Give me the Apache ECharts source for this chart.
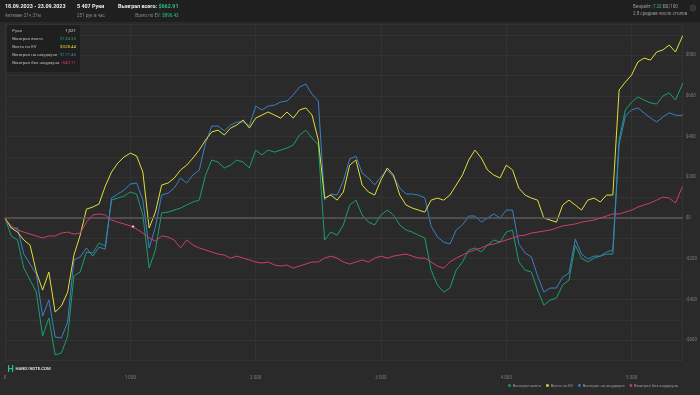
<!DOCTYPE html>
<html><head><meta charset="utf-8">
<script src="https://cdn.jsdelivr.net/npm/echarts@6/dist/echarts.min.js"></script>
<style>html,body{margin:0;padding:0;background:#2a2a2a}#c{width:700px;height:395px}</style>
</head><body><div id="c"></div><script>
const hands = [0,50,100,150,200,250,300,350,400,450,500,550,600,650,700,750,800,850,900,950,1000,1050,1100,1150,1200,1250,1300,1350,1400,1450,1500,1550,1600,1650,1700,1750,1800,1850,1900,1950,2000,2050,2100,2150,2200,2250,2300,2350,2400,2450,2500,2550,2600,2650,2700,2750,2800,2850,2900,2950,3000,3050,3100,3150,3200,3250,3300,3350,3400,3450,3500,3550,3600,3650,3700,3750,3800,3850,3900,3950,4000,4050,4100,4150,4200,4250,4300,4350,4400,4450,4500,4550,4600,4650,4700,4750,4800,4850,4900,4950,5000,5050,5100,5150,5200,5250,5300,5350,5400,5407];
const wonTotal = [0,-88,-108,-246,-305,-364,-580,-491,-673,-663,-580,-285,-265,-167,-172,-123,-138,88,98,108,128,118,15,-246,-157,25,29,39,49,64,79,88,211,285,275,246,260,285,275,246,334,310,334,324,334,344,359,408,432,393,359,-108,-69,-84,-34,64,88,15,-20,-34,15,39,15,-34,-59,-69,-84,-98,-256,-329,-364,-344,-256,-216,-157,-147,-167,-133,-108,-118,-69,-59,-216,-256,-265,-354,-428,-403,-393,-329,-305,-133,-197,-216,-197,-187,-167,-157,383,531,570,595,580,566,560,600,615,580,650,663];
const evTotal = [0,-49,-69,-108,-133,-265,-354,-265,-462,-432,-364,-182,-84,44,54,69,157,226,270,300,319,305,226,-49,29,162,172,196,236,260,295,334,383,423,432,408,442,457,482,442,491,506,521,506,491,521,491,531,541,506,383,98,113,88,128,260,285,162,128,113,187,246,211,113,64,49,39,29,88,98,88,113,162,211,285,334,295,236,211,197,260,236,147,113,98,88,0,-10,-20,64,88,64,39,88,98,79,113,113,629,668,703,767,786,776,816,826,850,816,885,896];
const wonShowdown = [0,-49,-49,-177,-226,-276,-482,-403,-585,-589,-511,-206,-191,-147,-187,-143,-153,98,118,137,167,172,89,-148,-44,113,122,147,196,172,212,235,368,452,452,428,457,472,472,452,550,531,550,555,570,575,605,644,658,609,575,89,118,113,182,290,304,221,196,163,202,236,202,148,118,118,113,99,-40,-93,-118,-128,-59,-34,10,10,-20,0,20,0,39,39,-128,-172,-191,-285,-364,-344,-344,-290,-271,-104,-177,-201,-187,-187,-177,-177,363,502,531,541,516,492,472,497,517,506,503,509];
const wonNoShowdown = [0,-39,-59,-69,-79,-88,-98,-88,-88,-74,-69,-79,-74,-20,15,20,15,-10,-20,-29,-39,-54,-74,-98,-113,-88,-93,-108,-147,-108,-133,-147,-157,-167,-177,-182,-197,-187,-197,-206,-216,-221,-216,-231,-236,-231,-246,-236,-226,-216,-216,-197,-187,-197,-216,-226,-216,-206,-216,-197,-187,-197,-187,-182,-177,-187,-197,-197,-216,-236,-246,-216,-197,-182,-167,-157,-147,-133,-128,-118,-108,-98,-88,-84,-74,-69,-64,-59,-49,-39,-34,-29,-20,-15,-10,0,10,20,20,29,39,54,64,74,88,103,98,74,147,154];
const seriesNames = ['Выиграл всего','Всего по EV','Выиграл на шоудауне','Выиграл без шоудауна'];
const seriesColors = ['#18a06c','#e0df3a','#3a80c6','#d13c6c'];
const tipHand = 1021;
const tipLabels = ['Выиграл всего','Всего по EV','Выиграл на шоудауне','Выиграл без шоудауна'];
const tipValues = [134.35, 328.44, 177.46, -43.11];

const F = 'Roboto, "Noto Sans", sans-serif';
function money(v){ return (v<0?'-$':'$') + Math.abs(v).toFixed(2); }
function thousands(v){ return v>=1000 ? Math.floor(v/1000)+' '+String(v%1000).padStart(3,'0') : String(v); }
function pairs(arr){ return hands.map((h,i)=>[h,arr[i]]); }

const chart = echarts.init(document.getElementById('c'), null, {renderer:'canvas'});
const allSeries = [wonTotal, evTotal, wonShowdown, wonNoShowdown].map((arr,i)=>({
  name: seriesNames[i], type:'line', data: pairs(arr), showSymbol:false, symbol:'none',
  lineStyle:{width:1, color: seriesColors[i]}, itemStyle:{color: seriesColors[i]},
  z: i===3?5:(i===1?4:3), silent:true, animation:false
}));
allSeries[0].markLine = {silent:true, symbol:'none', label:{show:false},
  lineStyle:{color:'#5a5a5a', width:1.5, type:'solid'}, data:[{yAxis:0}], animation:false};
allSeries[3].markPoint = {silent:true, symbol:'circle', symbolSize:2.5, label:{show:false},
  itemStyle:{color:'#ffffff'}, data:[{coord:[tipHand, tipValues[3]]}], animation:false};

const tipRows = [{l:'Руки', r: tipHand.toLocaleString('en-US'), c:'#ddd'}].concat(
  tipLabels.map((l,i)=>({l, r: money(tipValues[i]), c: seriesColors[i]})));

const graphics = [
  {type:'rect', shape:{x:0,y:0,width:700,height:22}, style:{fill:'#1f1f1f'}, z:0, silent:true},
  {type:'text', x:5, y:7, style:{text:'18.09.2023 - 23.09.2023', fill:'#eeeeee', font:'bold 5.4px '+F, textVerticalAlign:'middle'}},
  {type:'text', x:5, y:15.5, style:{text:'Активен 21ч 31м', fill:'#8a8a8a', font:'4.5px '+F, textVerticalAlign:'middle'}},
  {type:'text', x:77, y:7, style:{text:'5 407 Руки', fill:'#eeeeee', font:'bold 5.4px '+F, textVerticalAlign:'middle'}},
  {type:'text', x:77, y:15.5, style:{text:'251 рук в час', fill:'#8a8a8a', font:'4.5px '+F, textVerticalAlign:'middle'}},
  {type:'text', x:178.5, y:7, style:{text:'{a|Выиграл всего: }{b|$662.91}', textAlign:'right', textVerticalAlign:'middle',
    rich:{a:{fill:'#eeeeee', font:'bold 5.4px '+F}, b:{fill:'#2cc07e', font:'bold 5.4px '+F}}}},
  {type:'text', x:178.5, y:15.5, style:{text:'{a|Всего по EV: }{b|$896.43}', textAlign:'right', textVerticalAlign:'middle',
    rich:{a:{fill:'#8a8a8a', font:'4.5px '+F}, b:{fill:'#2cc07e', font:'4.5px '+F}}}},
  {type:'text', x:633, y:7, style:{text:'{a|Винрейт: }{b|7.33}{a| ББ/100}', textVerticalAlign:'middle',
    rich:{a:{fill:'#9a9a9a', font:'4.5px '+F}, b:{fill:'#2cc07e', font:'4.5px '+F}}}},
  {type:'text', x:633, y:14.3, style:{text:'2.8 среднее число столов', fill:'#9a9a9a', font:'4.5px '+F, textVerticalAlign:'middle'}},
  {type:'circle', shape:{cx:693, cy:8, r:3}, style:{fill:'#333', stroke:'#444', lineWidth:0.6}},
  {type:'rect', shape:{x:7,y:25,width:73,height:47,r:2}, style:{fill:'#1f1f1f'}, z:10}
];
tipRows.forEach((row,i)=>{
  const y = 30.7 + i*8.1;
  graphics.push({type:'text', x:12.3, y, z:11, style:{text:row.l, fill:'#bbbbbb', font:'4.4px '+F, textVerticalAlign:'middle'}});
  graphics.push({type:'text', x:76, y, z:11, style:{text:row.r, fill:row.c, font:'4.4px '+F, textAlign:'right', textVerticalAlign:'middle'}});
});
graphics.push({type:'group', x:8, y:365, children:[
  {type:'rect', shape:{x:0,y:0,width:1.2,height:7}, style:{fill:'#2cc07e'}},
  {type:'rect', shape:{x:4,y:0,width:1.2,height:7}, style:{fill:'#2cc07e'}},
  {type:'rect', shape:{x:0,y:3,width:5.2,height:1.2}, style:{fill:'#2cc07e'}},
  {type:'text', x:7.5, y:4, style:{text:'{a|HAND}{b|2}{a|NOTE.COM}', textVerticalAlign:'middle',
    rich:{a:{fill:'#dddddd', font:'bold 4.2px '+F}, b:{fill:'#2cc07e', font:'bold 4.2px '+F}}}}
]});

chart.setOption({
  backgroundColor:'#2a2a2a',
  animation:false,
  grid:{left:5, right:16.4, top:24.7, bottom:34.5, containLabel:false},
  xAxis:{type:'value', min:0, max:5407, interval:1000,
    axisLine:{show:false}, axisTick:{show:false},
    axisLabel:{color:'#7a7a7a', fontSize:4.5, fontFamily:F, margin:15, showMaxLabel:false, formatter:v=>thousands(v)},
    splitLine:{show:true, lineStyle:{color:'#333333', width:1}}},
  yAxis:{type:'value', position:'right', min:-700, max:950, interval:100,
    axisLine:{show:true, lineStyle:{color:'#333333'}}, axisTick:{show:false},
    axisLabel:{color:'#7a7a7a', fontSize:4.5, fontFamily:F, margin:3, showMaxLabel:false,
      formatter:v=> (v%200===0 && v<=800) ? (v<0?'-$'+(-v):'$'+v) : ''},
    splitLine:{show:true, lineStyle:{color:'#333333', width:1}}},
  legend:{data:seriesNames, right:17, bottom:2.5, icon:'rect', itemWidth:2.5, itemHeight:2.5, itemGap:5,
    textStyle:{color:'#9a9a9a', fontSize:4.1, fontFamily:F, padding:[0,0,0,-3]}},
  tooltip:{show:false},
  series: allSeries,
  graphic: graphics
});
</script></body></html>
